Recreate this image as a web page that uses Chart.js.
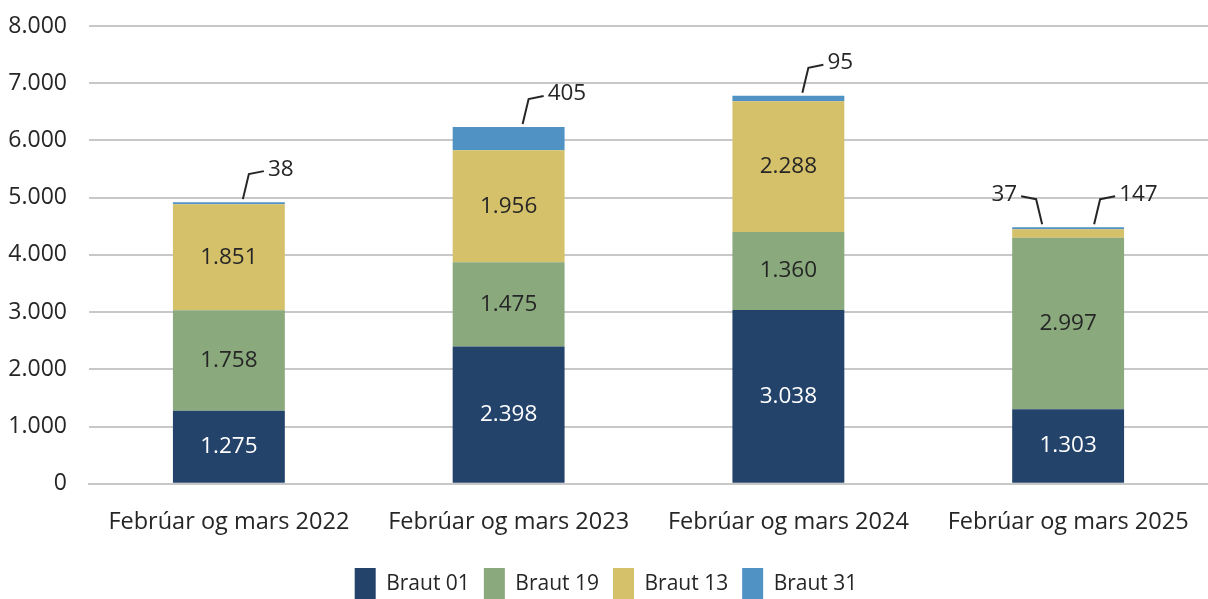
<!DOCTYPE html>
<html>
<head>
<meta charset="utf-8">
<script src="https://cdn.jsdelivr.net/npm/chart.js@4"></script>
<style>
  html, body { margin: 0; padding: 0; background: #fff; }
  #wrap { width: 1208px; height: 599px; }
</style>
</head>
<body>
<div id="wrap"><canvas id="chart" width="1208" height="599"></canvas></div>
<script>
// Data
const categories = ['Febrúar og mars 2022', 'Febrúar og mars 2023', 'Febrúar og mars 2024', 'Febrúar og mars 2025'];
const braut01 = [1275, 2398, 3038, 1303];
const braut19 = [1758, 1475, 1360, 2997];
const braut13 = [1851, 1956, 2288, 147];
const braut31 = [38, 405, 95, 37];
const seriesNames = ['Braut 01', 'Braut 19', 'Braut 13', 'Braut 31'];
const yTicks = [0, 1000, 2000, 3000, 4000, 5000, 6000, 7000, 8000];

const colors = ['#23436b', '#8aa97c', '#d5c16a', '#5092c4'];
const FONT = "'Open Sans', 'Noto Sans', sans-serif";

const fmt = v => v.toLocaleString('de-DE');

// small segments get a label outside with a leader line
// [dataset, category, side] side: 1 = right, -1 = left
const outside = [[3, 0, 1], [3, 1, 1], [3, 2, 1], [3, 3, -1], [2, 3, 1]];

const labelPlugin = {
    id: 'barLabels',
    afterDatasetsDraw(chart) {
        const ctx = chart.ctx;
        ctx.save();
        ctx.font = '22.5px ' + FONT;
        ctx.textBaseline = 'middle';
        // inside labels
        chart.data.datasets.forEach((ds, di) => {
            const meta = chart.getDatasetMeta(di);
            meta.data.forEach((bar, i) => {
                if (outside.some(o => o[0] === di && o[1] === i)) return;
                ctx.fillStyle = di === 0 ? '#ffffff' : '#262626';
                ctx.textAlign = 'center';
                ctx.fillText(fmt(ds.data[i]), bar.x, (bar.y + bar.base) / 2);
            });
        });
        // leader labels, anchored to the top of each stack
        ctx.strokeStyle = '#262626';
        ctx.lineWidth = 2;
        outside.forEach(([di, i, side]) => {
            const top = chart.getDatasetMeta(3).data[i];
            const count = outside.filter(o => o[1] === i).length;
            const x0 = count > 1 ? top.x + side * 26 : top.x + 14;
            const y0 = top.y - 3;
            const x1 = x0 + side * 6;
            const y1 = y0 - 25;
            const x2 = x1 + side * 15;
            const y2 = y1 - 3;
            ctx.beginPath();
            ctx.moveTo(x0, y0);
            ctx.lineTo(x1, y1);
            ctx.lineTo(x2, y2);
            ctx.stroke();
            ctx.fillStyle = '#262626';
            ctx.textAlign = side > 0 ? 'left' : 'right';
            ctx.fillText(fmt(chart.data.datasets[di].data[i]), x2 + side * 4, y2 - 2);
        });
        ctx.restore();
    }
};

new Chart(document.getElementById('chart'), {
    type: 'bar',
    data: {
        labels: categories,
        datasets: [braut01, braut19, braut13, braut31].map((d, k) => ({
            label: seriesNames[k],
            data: d,
            backgroundColor: colors[k],
            borderWidth: 0,
            barPercentage: 0.4,
            categoryPercentage: 1
        }))
    },
    options: {
        responsive: false,
        animation: false,
        layout: { padding: { top: 26, right: 0, left: 4, bottom: -12 } },
        scales: {
            x: {
                stacked: true,
                grid: { display: false },
                border: { color: '#c8c8c8', width: 2 },
                ticks: { color: '#262626', font: { family: FONT, size: 23.5 }, padding: 16 },
                afterFit: s => { s.height += 2; }
            },
            y: {
                stacked: true,
                min: 0,
                max: 8000,
                afterBuildTicks: axis => { axis.ticks = yTicks.map(v => ({ value: v })); },
                grid: { color: '#c8c8c8', lineWidth: 2, drawTicks: false },
                border: { display: false },
                ticks: {
                    color: '#262626',
                    font: { family: FONT, size: 23 },
                    padding: 22,
                    callback: v => fmt(v)
                },
                afterFit: s => { s.width = 85; s.paddingTop = 0; }
            }
        },
        plugins: {
            legend: {
                position: 'bottom',
                labels: {
                    color: '#262626',
                    font: { family: FONT, size: 21 },
                    boxWidth: 21,
                    boxHeight: 33,
                    padding: 14
                }
            },
            tooltip: { enabled: false }
        }
    },
    plugins: [labelPlugin]
});
</script>
</body>
</html>
